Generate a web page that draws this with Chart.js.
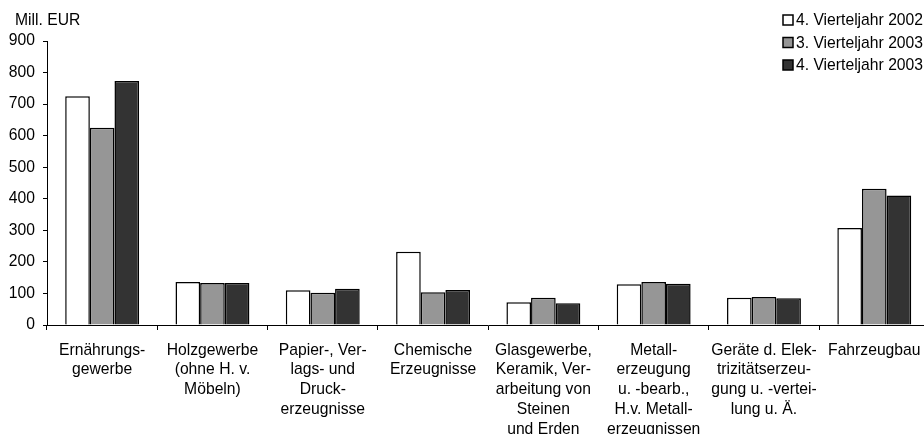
<!DOCTYPE html>
<html lang="de">
<head>
  <meta charset="UTF-8">
  <title>Umsatz nach Wirtschaftszweigen</title>
  <style>
    body {
      margin: 0;
      padding: 0;
      background-color: white;
      overflow: hidden;
    }
    .chart-box {
      width: 931px;
      height: 434px;
    }
  </style>
</head>
<body>
  <div class="chart-box">
    <canvas id="barChart" width="931" height="434"></canvas>
  </div>

  <script src="https://cdn.jsdelivr.net/npm/chart.js"></script>
  <script>
    // Wirtschaftszweige (mehrzeilige Beschriftung wie im Original)
    const categories = [
      ["Ernährungs-", "gewerbe"],
      ["Holzgewerbe", "(ohne H. v.", "Möbeln)"],
      ["Papier-, Ver-", "lags- und", "Druck-", "erzeugnisse"],
      ["Chemische", "Erzeugnisse"],
      ["Glasgewerbe,", "Keramik, Ver-", "arbeitung von", "Steinen", "und Erden"],
      ["Metall-", "erzeugung", "u. -bearb.,", "H.v. Metall-", "erzeugnissen"],
      ["Geräte d. Elek-", "trizitätserzeu-", "gung u. -vertei-", "lung u. Ä."],
      ["Fahrzeugbau"]
    ];

    const seriesNames = ["4. Vierteljahr 2002", "3. Vierteljahr 2003", "4. Vierteljahr 2003"];

    // Werte in Mill. EUR
    const q4_2002 = [725, 136, 110, 232, 72, 129, 86, 307];
    const q3_2003 = [625, 133, 102, 104, 86, 136, 89, 432];
    const q4_2003 = [773, 133, 115, 111, 69, 131, 85, 410];

    const yTicks = [0, 100, 200, 300, 400, 500, 600, 700, 800, 900];

    const fillColors = ["#ffffff", "#969696", "#333333"];

    const fontSize = 15.7;

    Chart.defaults.font.family = "'Liberation Sans', Arial, sans-serif";
    Chart.defaults.font.size = fontSize;
    Chart.defaults.color = "#000";

    // Legende oben rechts, untereinander
    const sideLegend = {
      id: "sideLegend",
      afterDraw(chart) {
        const ctx = chart.ctx;
        ctx.save();
        ctx.font = fontSize + "px 'Liberation Sans', Arial, sans-serif";
        ctx.textBaseline = "middle";
        ctx.textAlign = "left";
        chart.data.datasets.forEach(function(ds, i) {
          const y = 20 + i * 22.5;
          ctx.fillStyle = ds.backgroundColor;
          ctx.fillRect(783, y - 5, 10, 10);
          ctx.strokeStyle = "#000";
          ctx.lineWidth = 1.5;
          ctx.strokeRect(783, y - 5, 10, 10);
          ctx.fillStyle = "#000";
          ctx.fillText(ds.label, 796, y + 1);
        });
        // Einheit über der y-Achse
        ctx.fillText("Mill. EUR", 15, 21);
        ctx.restore();
      }
    };

    const ctx = document.getElementById("barChart").getContext("2d");
    const barChart = new Chart(ctx, {
      type: "bar",
      data: {
        labels: categories,
        datasets: [q4_2002, q3_2003, q4_2003].map(function(values, i) {
          return {
            label: seriesNames[i],
            data: values,
            backgroundColor: fillColors[i],
            borderColor: "#000",
            borderWidth: 1.5,
            categoryPercentage: 0.67,
            barPercentage: 1.0
          };
        })
      },
      options: {
        responsive: false,
        animation: false,
        layout: {
          padding: { top: 41, right: 0, bottom: 0, left: 0 }
        },
        plugins: {
          legend: { display: false },
          tooltip: { enabled: false }
        },
        scales: {
          x: {
            grid: {
              offset: true,
              drawOnChartArea: false,
              tickLength: 5,
              color: "#000"
            },
            border: { color: "#000", width: 1 },
            ticks: {
              autoSkip: false,
              maxRotation: 0,
              padding: 10.5,
              font: { size: fontSize, lineHeight: 1.26 }
            },
            afterFit(scale) {
              scale.height = 109;
            }
          },
          y: {
            min: 0,
            max: 900,
            grid: {
              drawOnChartArea: false,
              tickLength: 4,
              color: "#000"
            },
            border: { color: "#000", width: 1 },
            afterBuildTicks(scale) {
              scale.ticks = yTicks.map(function(v) { return { value: v }; });
            },
            ticks: {
              padding: 8,
              font: { size: fontSize }
            },
            afterFit(scale) {
              scale.width = 47;
            }
          }
        }
      },
      plugins: [sideLegend]
    });
  </script>
</body>
</html>
